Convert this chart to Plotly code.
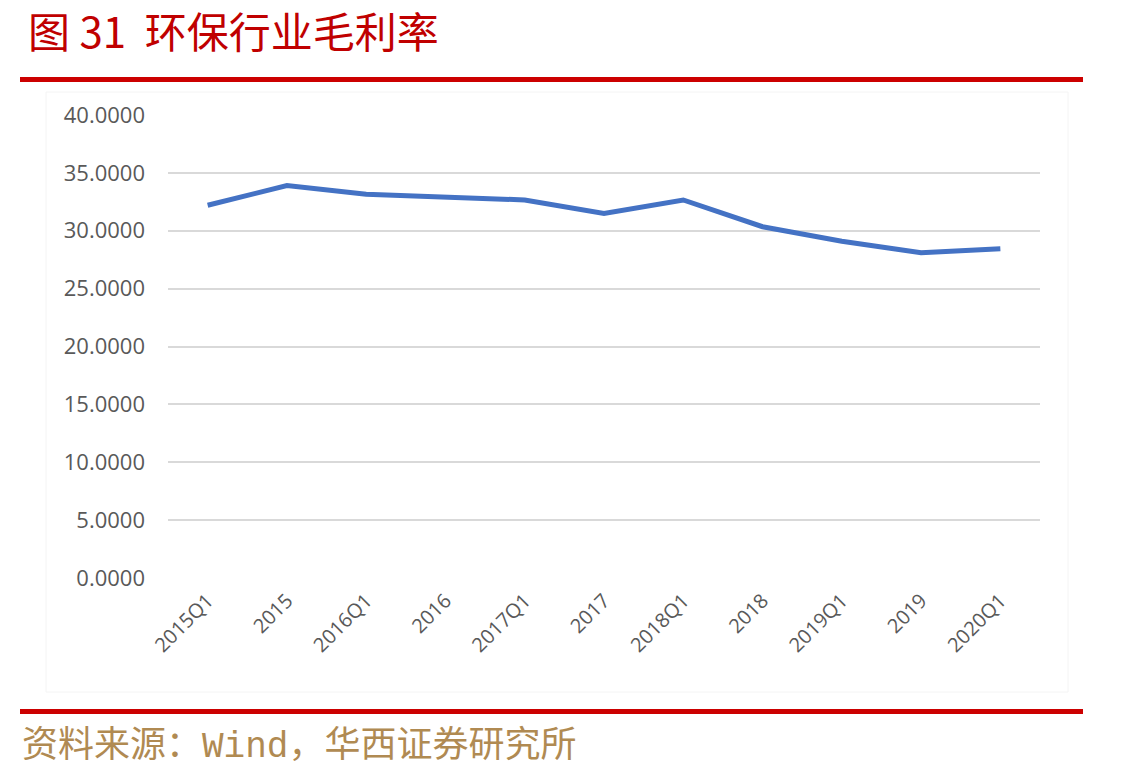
import plotly.graph_objects as go

categories = ["2015Q1", "2015", "2016Q1", "2016", "2017Q1", "2017",
              "2018Q1", "2018", "2019Q1", "2019", "2020Q1"]
margin_values = [32.2, 33.9, 33.15, 32.95, 32.66, 31.5, 32.66, 30.35, 29.1, 28.1, 28.45]
y_ticks = [0, 5, 10, 15, 20, 25, 30, 35, 40]
y_tick_labels = ["0.0000", "5.0000", "10.0000", "15.0000", "20.0000",
                 "25.0000", "30.0000", "35.0000", "40.0000"]

W, H = 1128, 773
L, R, T, B = 168, 1040, 115, 578


def px(x):
    return (x - L) / (R - L)


def py(y):
    return (B - y) / (B - T)


fig = go.Figure()
fig.add_trace(go.Scatter(
    x=categories, y=margin_values, mode="lines",
    line=dict(color="#4472C4", width=5),
    showlegend=False, hoverinfo="x+y"))

shapes = [
    dict(type="rect", xref="paper", yref="paper", x0=px(20), x1=px(1083),
         y0=py(82), y1=py(77), fillcolor="#CC0000", line=dict(width=0), layer="above"),
    dict(type="rect", xref="paper", yref="paper", x0=px(20), x1=px(1083),
         y0=py(714), y1=py(709), fillcolor="#CC0000", line=dict(width=0), layer="above"),
    dict(type="rect", xref="paper", yref="paper", x0=px(46), x1=px(1068),
         y0=py(692), y1=py(92), fillcolor="rgba(0,0,0,0)",
         line=dict(width=1, color="#F4F4F4"), layer="below"),
]

annotations = [
    dict(text="图 31  环保行业毛利率", xref="paper", yref="paper",
         x=px(26), y=py(29), xanchor="left", yanchor="middle", showarrow=False,
         font=dict(family="Noto Sans CJK SC", size=42, color="#C00000")),
    dict(text="资料来源：<span style='font-family:Liberation Mono'>Wind</span>，华西证券研究所",
         xref="paper", yref="paper",
         x=px(20), y=py(741), xanchor="left", yanchor="middle", showarrow=False,
         font=dict(family="Noto Sans CJK SC", size=36, color="#B08A52")),
]

fig.update_layout(
    width=W, height=H,
    margin=dict(l=L, r=W - R, t=T, b=H - B, pad=0),
    paper_bgcolor="white", plot_bgcolor="white",
    shapes=shapes, annotations=annotations,
    xaxis=dict(type="category", range=[-0.5, len(categories) - 0.5],
               tickangle=-45, showgrid=False, zeroline=False, showline=False,
               ticks="", ticklabelstandoff=6,
               tickfont=dict(family="Open Sans", size=20, color="#595959")),
    yaxis=dict(range=[0, 40], tickvals=y_ticks, ticktext=y_tick_labels,
               showgrid=True, gridcolor="#D9D9D9", gridwidth=1.5, zeroline=False,
               showline=False, ticks="", ticklabelstandoff=22,
               tickfont=dict(family="Open Sans", size=22, color="#595959")),
)

fig.write_html("out.html")
